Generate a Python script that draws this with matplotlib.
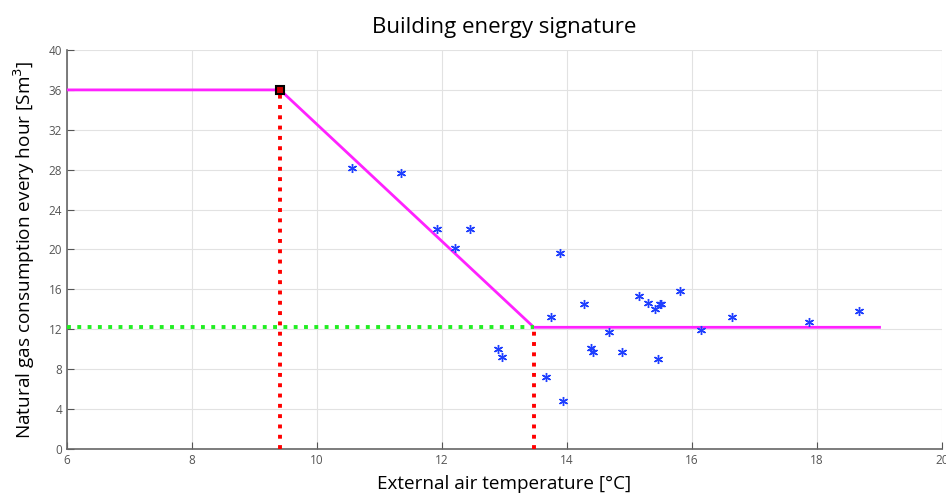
import matplotlib.pyplot as plt
import matplotlib

matplotlib.rcParams['font.family'] = ['Open Sans', 'DejaVu Sans']

# measured points (temperature [°C], consumption [Sm3/h])
temp = [10.56, 11.34, 11.92, 12.21, 12.45, 12.90, 12.96, 13.67, 13.74, 13.89,
        13.94, 14.27, 14.39, 14.41, 14.67, 14.88, 15.15, 15.30, 15.40, 15.46,
        15.49, 15.51, 15.80, 16.14, 16.64, 17.87, 18.67]
gas = [28.2, 27.65, 22.06, 20.15, 22.06, 9.99, 9.19, 7.19, 13.27, 19.62,
       4.81, 14.5, 10.09, 9.75, 11.7, 9.75, 15.34, 14.67, 14.0, 8.99,
       14.5, 14.5, 15.8, 11.93, 13.2, 12.76, 13.83]

# signature (piecewise linear)
sig_x = [6, 9.41, 13.47, 19]
sig_y = [36, 36, 12.2, 12.2]

x_ticks = [6, 8, 10, 12, 14, 16, 18, 20]
y_ticks = [0, 4, 8, 12, 16, 20, 24, 28, 32, 36, 40]

fig = plt.figure(figsize=(9.46, 5.01), dpi=100)
ax = fig.add_axes([0.0708, 0.1038, 0.925, 0.7964])

ax.plot(sig_x, sig_y, color='#ff22ff', linewidth=2, zorder=3)
ax.plot([sig_x[1], sig_x[1]], [0, sig_y[1]], color='#ff0000', linestyle=':',
        linewidth=2.8, zorder=4)
ax.plot([sig_x[2], sig_x[2]], [0, sig_y[2]], color='#ff0000', linestyle=':',
        linewidth=2.8, zorder=4)
ax.plot([sig_x[0], sig_x[2]], [sig_y[2], sig_y[2]], color='#22ee22', linestyle=':',
        linewidth=2.8, zorder=4)
ax.plot([sig_x[1]], [sig_y[1]], marker='s', markersize=6, markerfacecolor='#cc0000',
        markeredgecolor='black', markeredgewidth=1.5, zorder=5)

ax.plot(temp, gas, linestyle='none', marker=(6, 2, 0), markersize=6.5,
        markeredgecolor='#1f3fff', markeredgewidth=1.0, zorder=6)

ax.set_xlim(6, 20)
ax.set_ylim(0, 40)
ax.set_xticks(x_ticks)
ax.set_yticks(y_ticks)
ax.tick_params(direction='in', length=5, colors='#555555', labelsize=8.5,
               labelcolor='#555555')
ax.grid(True, color='#e2e2e2', linewidth=0.8)
ax.set_axisbelow(True)
for side in ['top', 'right']:
    ax.spines[side].set_visible(False)
for side in ['left', 'bottom']:
    ax.spines[side].set_color('#666666')
    ax.spines[side].set_linewidth(1.2)

ax.set_title('Building energy signature', fontsize=16, pad=12)
ax.set_xlabel('External air temperature [°C]', fontsize=13.6, labelpad=6)
ax.set_ylabel('Natural gas consumption every hour [Sm$^3$]', fontsize=13.7, labelpad=8)

plt.savefig('out.png', dpi=100)
